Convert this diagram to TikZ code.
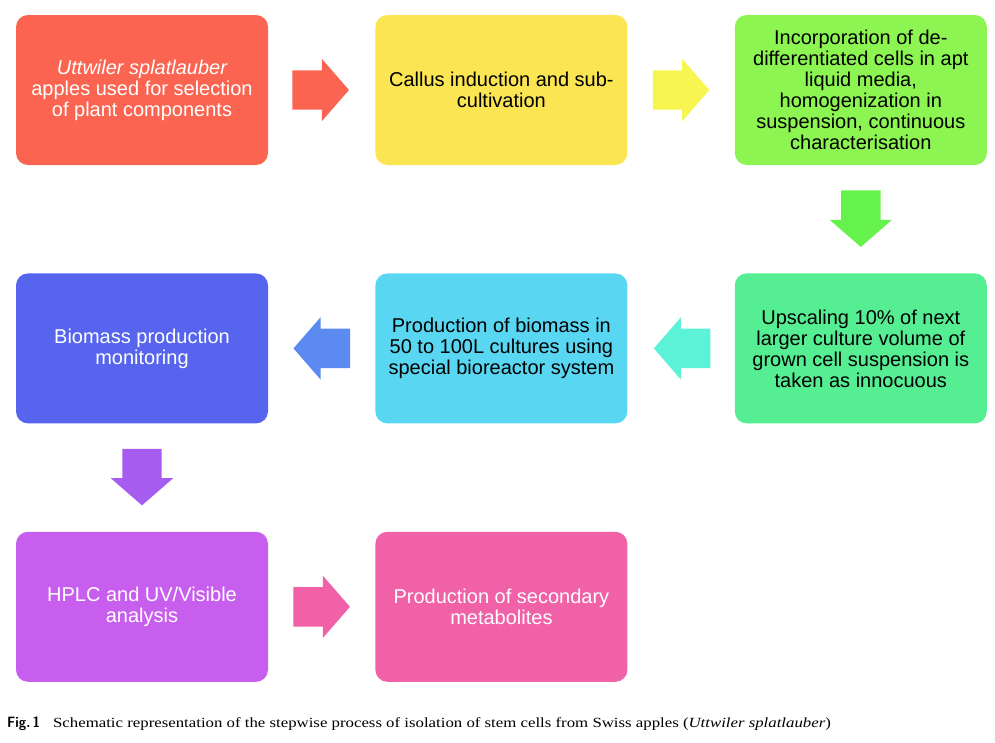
\documentclass[tikz,border=0pt]{standalone}
\usepackage{fontspec}
\setmainfont{Liberation Sans}
\newfontfamily\capfont{Liberation Serif}
\usetikzlibrary{positioning,shapes.arrows}
\definecolor{applered}{RGB}{250,100,80}
\definecolor{callusyellow}{RGB}{251,229,82}
\definecolor{arrowyellow}{RGB}{247,245,80}
\definecolor{incorpgreen}{RGB}{141,245,82}
\definecolor{arrowgreen}{RGB}{102,242,76}
\definecolor{upscalegreen}{RGB}{86,238,146}
\definecolor{arrowteal}{RGB}{92,242,216}
\definecolor{bioreactcyan}{RGB}{89,215,242}
\definecolor{arrowblue}{RGB}{91,139,240}
\definecolor{monitorblue}{RGB}{86,100,238}
\definecolor{arrowpurple}{RGB}{166,92,239}
\definecolor{hplcviolet}{RGB}{200,94,238}
\definecolor{metabpink}{RGB}{240,97,168}

\begin{document}
\begin{tikzpicture}[
  x=1pt, y=-1pt,
  node distance=108pt and 107pt,
  stepbox/.style={rounded corners=12pt, minimum width=252pt, minimum height=150pt, inner sep=0pt, align=center, font=\fontsize{20}{21}\selectfont},
  fatarrow/.style={single arrow, draw=none, inner sep=19.5pt, minimum width=62pt, minimum height=55pt, single arrow head extend=11.5pt, single arrow tip angle=98, anchor=tail}
]
\useasboundingbox (0,0) rectangle (995,742);
\node[stepbox,fill=applered,text=white] (apple) at (142,90) {\itshape Uttwiler splatlauber\\apples used for selection\\of plant components};
\node[stepbox,fill=callusyellow,right=of apple] (callus) {Callus induction and sub-\\cultivation};
\node[stepbox,fill=incorpgreen,right=of callus] (incorp) {Incorporation of de-\\differentiated cells in apt\\liquid media,\\homogenization in\\suspension, continuous\\characterisation};
\node[stepbox,fill=upscalegreen,below=of incorp] (upscale) {Upscaling 10\% of next\\larger culture volume of\\grown cell suspension is\\taken as innocuous};
\node[stepbox,fill=bioreactcyan,left=of upscale] (bioreact) {Production of biomass in\\50 to 100L cultures using\\special bioreactor system};
\node[stepbox,fill=monitorblue,text=white,left=of bioreact] (monitor) {Biomass production\\monitoring};
\node[stepbox,fill=hplcviolet,text=white,below=of monitor] (hplc) {HPLC and UV/Visible\\analysis};
\node[stepbox,fill=metabpink,text=white,right=of hplc] (metab) {Production of secondary\\metabolites};
\node[fatarrow,fill=applered,right=24pt of apple,anchor=tail] (a1) {};
\node[fatarrow,fill=arrowyellow,right=25pt of callus,anchor=tail] (a2) {};
\node[fatarrow,fill=arrowgreen,shape border rotate=270,below=25pt of incorp,anchor=tail] (a3) {};
\node[fatarrow,fill=arrowteal,shape border rotate=180,left=24pt of upscale,anchor=tail] (a4) {};
\node[fatarrow,fill=arrowblue,shape border rotate=180,left=25pt of bioreact,anchor=tail] (a5) {};
\node[fatarrow,fill=arrowpurple,shape border rotate=270,below=25pt of monitor,anchor=tail] (a6) {};
\node[fatarrow,fill=metabpink,right=25pt of hplc,anchor=tail] (a7) {};
% caption
\node[anchor=base west,inner sep=0pt,font=\capfont\fontsize{14}{16}\selectfont] (cap) at (7,727) {\scalebox{0.9}[1]{\sffamily\bfseries\fontsize{15}{16}\selectfont Fig.\,1}\hspace{13pt}\scalebox{1.2}[1]{Schematic representation of the stepwise process of isolation of stem cells from Swiss apples (\textit{Uttwiler splatlauber})}};
\end{tikzpicture}
\end{document}
